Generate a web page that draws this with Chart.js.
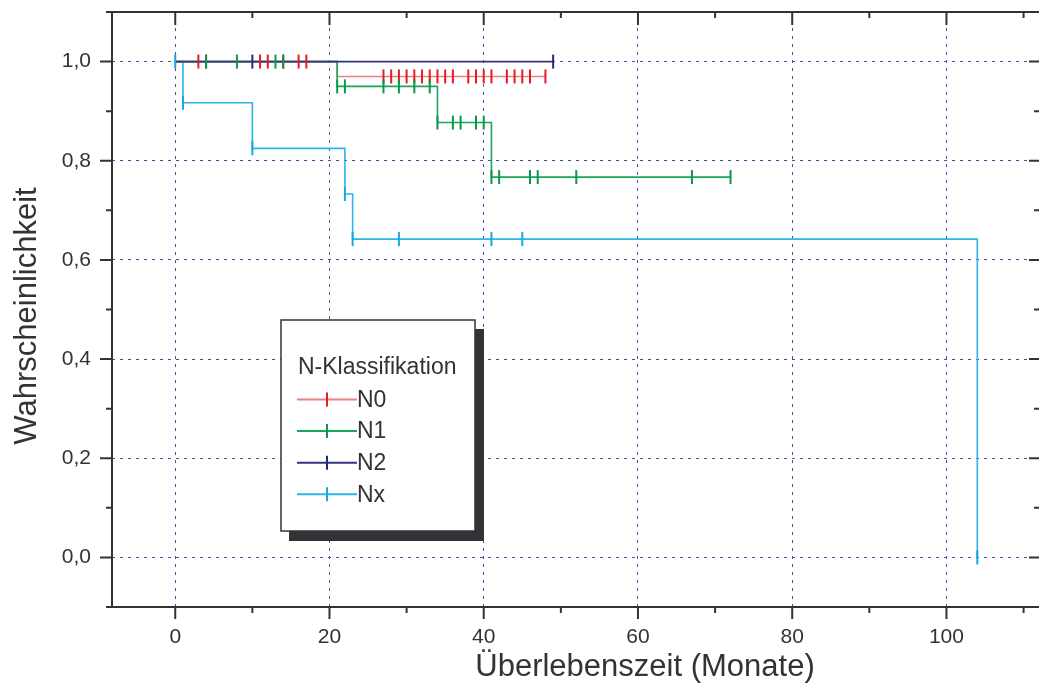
<!DOCTYPE html>
<html>
<head>
<meta charset="utf-8">
<script src="https://cdn.jsdelivr.net/npm/chart.js@4"></script>
<style>
  html, body { margin: 0; padding: 0; background: #fff; }
  #wrap { width: 1039px; height: 695px; }
</style>
</head>
<body>
<div id="wrap"><canvas id="kmChart"></canvas></div>
<script>
// Kaplan-Meier: step times (Monate), survival after each step, censored times
const n0Times = [0, 21, 48];
const n0Surv = [1, 0.97, 0.97];
const n0Censored = [3, 4, 11, 12, 14, 16, 17, 27, 28, 29, 30, 31, 32, 33, 34, 35, 36, 38, 39, 40, 41, 43, 44, 45, 46, 48];

const n1Times = [0, 21, 34, 41, 72];
const n1Surv = [1, 0.95, 0.877, 0.767, 0.767];
const n1Censored = [4, 8, 13, 14, 21, 22, 27, 29, 31, 33, 34, 36, 37, 39, 40, 41, 42, 46, 47, 52, 67, 72];

const n2Times = [0, 49];
const n2Surv = [1, 1];
const n2Censored = [10, 49];

const nxTimes = [0, 1, 10, 22, 23, 104];
const nxSurv = [1, 0.917, 0.825, 0.733, 0.642, 0];
const nxCensored = [0, 1, 10, 22, 23, 29, 41, 45, 104];

const groupLabels = ["N0", "N1", "N2", "Nx"];
const xTicks = [0, 20, 40, 60, 80, 100];
const xMinor = [10, 30, 50, 70, 90, 110];
const yTicks = [0, 0.2, 0.4, 0.6, 0.8, 1.0];
const yMinor = [0.1, 0.3, 0.5, 0.7, 0.9];

const FONT = "'Liberation Sans', Arial, sans-serif";
const INK = "#333333";

// survival value in effect at time t
function survAt(times, surv, t) {
  let s = surv[0];
  for (let i = 0; i < times.length; i++) if (times[i] <= t) s = surv[i];
  return s;
}

const groups = [
  { label: groupLabels[0], times: n0Times, surv: n0Surv, cens: n0Censored, line: "#f27d82", mark: "#e31b25" },
  { label: groupLabels[1], times: n1Times, surv: n1Surv, cens: n1Censored, line: "#1ca65a", mark: "#08994a" },
  { label: groupLabels[2], times: n2Times, surv: n2Surv, cens: n2Censored, line: "#34347f", mark: "#27277f" },
  { label: groupLabels[3], times: nxTimes, surv: nxSurv, cens: nxCensored, line: "#2bb5e8", mark: "#17a8e0" },
];

const datasets = [];
// curves: drawn first (higher order), navy on top of the others
const lineOrder = [4, 3, 2, 5];
groups.forEach((g, i) => {
  datasets.push({
    label: g.label,
    data: g.times.map((t, j) => ({ x: t, y: g.surv[j] })),
    borderColor: g.line,
    borderWidth: 1.6,
    stepped: true,
    pointRadius: 0,
    fill: false,
    order: lineOrder[i],
    isCurve: true,
    markColor: g.mark,
  });
});
// censor ticks
groups.forEach((g, i) => {
  datasets.push({
    label: g.label + " zensiert",
    data: g.cens.map(t => ({ x: t, y: survAt(g.times, g.surv, t) })),
    showLine: false,
    pointStyle: "line",
    pointRotation: 90,
    pointRadius: 7,
    pointHoverRadius: 7,
    pointBorderWidth: 2,
    pointBorderColor: g.mark,
    pointBackgroundColor: g.mark,
    borderColor: g.mark,
    order: 1 - i * 0.1,
  });
});

// fixed axis sizes, no extra room for overhanging labels
function fixSize(prop, size) {
  return s => {
    s[prop] = size;
    s.paddingTop = 0; s.paddingBottom = 0; s.paddingLeft = 0; s.paddingRight = 0;
  };
}

// axis frame with outward ticks (bottom, left) and inward ticks (top, right)
const framePlugin = {
  id: "frame",
  afterDatasetsDraw(chart) {
    const { ctx, chartArea: a, scales: { x, y } } = chart;
    ctx.save();
    ctx.strokeStyle = INK;
    ctx.lineWidth = 2;
    ctx.beginPath();
    ctx.moveTo(a.left - 6, a.bottom); ctx.lineTo(a.right, a.bottom);
    ctx.moveTo(a.left - 6, a.top); ctx.lineTo(a.right, a.top);
    ctx.moveTo(a.left, a.top); ctx.lineTo(a.left, a.bottom);
    xTicks.forEach(v => {
      const px = x.getPixelForValue(v);
      ctx.moveTo(px, a.bottom); ctx.lineTo(px, a.bottom + 12);
      ctx.moveTo(px, a.top); ctx.lineTo(px, a.top + 13);
    });
    xMinor.forEach(v => {
      const px = x.getPixelForValue(v);
      ctx.moveTo(px, a.bottom); ctx.lineTo(px, a.bottom + 6);
      ctx.moveTo(px, a.top); ctx.lineTo(px, a.top + 6);
    });
    yTicks.forEach(v => {
      const py = y.getPixelForValue(v);
      ctx.moveTo(a.left, py); ctx.lineTo(a.left - 12, py);
      ctx.moveTo(a.right, py); ctx.lineTo(a.right - 10, py);
    });
    yMinor.forEach(v => {
      const py = y.getPixelForValue(v);
      ctx.moveTo(a.left, py); ctx.lineTo(a.left - 6, py);
      ctx.moveTo(a.right, py); ctx.lineTo(a.right - 5, py);
    });
    ctx.stroke();

    // axis titles
    ctx.fillStyle = INK;
    ctx.font = "31px " + FONT;
    ctx.textAlign = "center";
    ctx.textBaseline = "middle";
    ctx.fillText("Überlebenszeit (Monate)", 645, 667);
    ctx.translate(27, 316);
    ctx.rotate(-Math.PI / 2);
    ctx.fillText("Wahrscheinlichkeit", 0, 0);
    ctx.restore();
  },
};

// boxed legend with drop shadow inside the plot
const legendBox = {
  id: "legendBox",
  afterDraw(chart) {
    const { ctx } = chart;
    ctx.save();
    ctx.fillStyle = "#333236";
    ctx.fillRect(289, 329, 195, 212);
    ctx.fillStyle = "#ffffff";
    ctx.fillRect(281, 320, 194, 211);
    ctx.strokeStyle = INK;
    ctx.lineWidth = 1.5;
    ctx.strokeRect(281, 320, 194, 211);

    ctx.fillStyle = INK;
    ctx.font = "23px " + FONT;
    ctx.textAlign = "left";
    ctx.textBaseline = "middle";
    ctx.fillText("N-Klassifikation", 298, 368);

    const curves = chart.data.datasets.filter(d => d.isCurve);
    curves.forEach((d, i) => {
      const yy = 399.5 + i * 31.6;
      ctx.strokeStyle = d.borderColor;
      ctx.lineWidth = 2;
      ctx.beginPath();
      ctx.moveTo(297, yy); ctx.lineTo(357, yy);
      ctx.stroke();
      ctx.strokeStyle = d.markColor;
      ctx.beginPath();
      ctx.moveTo(327, yy - 7); ctx.lineTo(327, yy + 7);
      ctx.stroke();
      ctx.fillStyle = INK;
      ctx.fillText(d.label, 357, yy + 1);
    });
    ctx.restore();
  },
};

new Chart(document.getElementById("kmChart"), {
  type: "line",
  data: { datasets },
  options: {
    responsive: true,
    maintainAspectRatio: false,
    animation: false,
    layout: { autoPadding: false, padding: { top: 12, right: 0, bottom: 0, left: 0 } },
    plugins: { legend: { display: false }, tooltip: { enabled: false } },
    scales: {
      x: {
        type: "linear",
        min: -8.2,
        max: 112,
        afterBuildTicks: s => { s.ticks = xTicks.map(v => ({ value: v })); },
        afterFit: fixSize("height", 88),
        grid: { color: "#4c4ca6", lineWidth: 1, drawTicks: false },
        border: { display: false, dash: [3, 5] },
        ticks: {
          padding: 18,
          autoSkip: false,
          maxRotation: 0,
          color: INK,
          font: { family: FONT, size: 21 },
        },
      },
      y: {
        type: "linear",
        min: -0.1,
        max: 1.1,
        afterBuildTicks: s => { s.ticks = yTicks.map(v => ({ value: v })); },
        afterFit: fixSize("width", 112),
        grid: { color: "#4c4ca6", lineWidth: 1, drawTicks: false },
        border: { display: false, dash: [3, 5] },
        ticks: {
          padding: 21,
          color: INK,
          font: { family: FONT, size: 21 },
          callback: v => v.toFixed(1).replace(".", ","),
        },
      },
    },
  },
  plugins: [framePlugin, legendBox],
});
</script>
</body>
</html>
